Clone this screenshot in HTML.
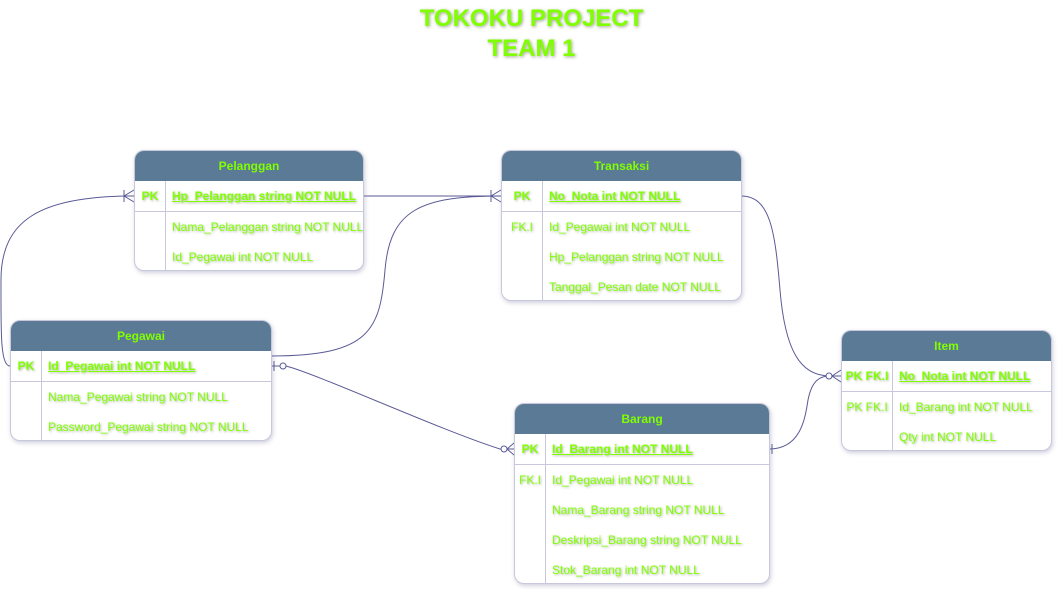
<!DOCTYPE html>
<html><head><meta charset="utf-8"><style>
body{margin:0;width:1063px;height:595px;background:#fff;position:relative;overflow:hidden;font-family:"Liberation Sans",sans-serif;}
.t{position:absolute;border:1px solid #c8c8dc;border-radius:10px;background:#fff;box-shadow:1px 2px 4px rgba(120,120,160,.35);overflow:hidden;}
.h{background:#5a7a96;height:30px;line-height:30px;text-align:center;color:#80ff00;font-weight:bold;font-size:12px;}
.r{position:relative;height:30px;line-height:30px;font-size:12px;color:#7fff00;text-shadow:1px 1px 2px rgba(90,110,60,.5);white-space:nowrap;}
.r .k{position:absolute;left:0;top:0;text-align:center;height:30px;border-right:1px solid #c8c8dc;}
.r .v{position:absolute;top:0;}
.pk{border-bottom:1px solid #c8c8dc;font-weight:bold;}
.pk .v{text-decoration:underline;}
.title{position:absolute;left:0;width:1063px;text-align:center;color:#80ff00;font-size:24px;font-weight:bold;text-shadow:1px 1px 3px rgba(90,110,60,.6);}
</style></head><body>
<div class="title" style="top:5px">TOKOKU PROJECT</div>
<div class="title" style="top:35px">TEAM 1</div>

<svg width="1063" height="595" style="position:absolute;left:0;top:0" fill="none" stroke="#5a5a96" stroke-width="1">
<path d="M363 196 H501"/>
<path d="M491 196 L501 190 M491 196 L501 202 M491 190 V202"/>
<path d="M10 366 C0 366 1 330 1 280 C1 220 40 196 134 196"/>
<path d="M124 196 L134 190 M124 196 L134 202 M124 190 V202"/>
<path d="M271 356 C370 356 380 330 385 270 C390 210 420 196 501 196"/>
<path d="M271 366 H280 M274 361 V371"/>
<circle cx="283" cy="366" r="3" fill="#fff"/>
<path d="M286 366 C320 375 440 430 500 449 H514"/>
<circle cx="504" cy="449" r="3" fill="#fff"/>
<path d="M507 449 L514 443 M507 449 L514 455"/>
<path d="M741 196 C770 196 775 230 780 290 C785 350 800 376 830 376 H841"/>
<path d="M769 449 C800 449 805 420 808 400 C812 380 820 376 830 376"/>
<path d="M772 444 V454"/>
<circle cx="829" cy="376" r="3" fill="#fff"/>
<path d="M832 376 L841 370 M832 376 L841 382"/>
</svg>

<div class="t" style="left:134px;top:150px;width:228px;height:119px">
<div class="h">Pelanggan</div>
<div class="r pk"><span class="k" style="width:30px">PK</span><span class="v" style="left:37px">Hp_Pelanggan string NOT NULL</span></div>
<div class="r"><span class="k" style="width:30px"></span><span class="v" style="left:37px">Nama_Pelanggan string NOT NULL</span></div>
<div class="r"><span class="k" style="width:30px"></span><span class="v" style="left:37px">Id_Pegawai int NOT NULL</span></div>
</div>

<div class="t" style="left:501px;top:150px;width:239px;height:149px">
<div class="h">Transaksi</div>
<div class="r pk"><span class="k" style="width:40px">PK</span><span class="v" style="left:47px">No_Nota int NOT NULL</span></div>
<div class="r"><span class="k" style="width:40px">FK.I</span><span class="v" style="left:47px">Id_Pegawai int NOT NULL</span></div>
<div class="r"><span class="k" style="width:40px"></span><span class="v" style="left:47px">Hp_Pelanggan string NOT NULL</span></div>
<div class="r"><span class="k" style="width:40px"></span><span class="v" style="left:47px">Tanggal_Pesan date NOT NULL</span></div>
</div>

<div class="t" style="left:10px;top:320px;width:260px;height:119px">
<div class="h">Pegawai</div>
<div class="r pk"><span class="k" style="width:30px">PK</span><span class="v" style="left:37px">Id_Pegawai int NOT NULL</span></div>
<div class="r"><span class="k" style="width:30px"></span><span class="v" style="left:37px">Nama_Pegawai string NOT NULL</span></div>
<div class="r"><span class="k" style="width:30px"></span><span class="v" style="left:37px">Password_Pegawai string NOT NULL</span></div>
</div>

<div class="t" style="left:514px;top:403px;width:254px;height:179px">
<div class="h">Barang</div>
<div class="r pk"><span class="k" style="width:30px">PK</span><span class="v" style="left:37px">Id_Barang int NOT NULL</span></div>
<div class="r"><span class="k" style="width:30px">FK.I</span><span class="v" style="left:37px">Id_Pegawai int NOT NULL</span></div>
<div class="r"><span class="k" style="width:30px"></span><span class="v" style="left:37px">Nama_Barang string NOT NULL</span></div>
<div class="r"><span class="k" style="width:30px"></span><span class="v" style="left:37px">Deskripsi_Barang string NOT NULL</span></div>
<div class="r"><span class="k" style="width:30px"></span><span class="v" style="left:37px">Stok_Barang int NOT NULL</span></div>
</div>

<div class="t" style="left:841px;top:330px;width:209px;height:119px">
<div class="h">Item</div>
<div class="r pk"><span class="k" style="width:50px">PK FK.I</span><span class="v" style="left:57px">No_Nota int NOT NULL</span></div>
<div class="r"><span class="k" style="width:50px">PK FK.I</span><span class="v" style="left:57px">Id_Barang int NOT NULL</span></div>
<div class="r"><span class="k" style="width:50px"></span><span class="v" style="left:57px">Qty int NOT NULL</span></div>
</div>
</body></html>
